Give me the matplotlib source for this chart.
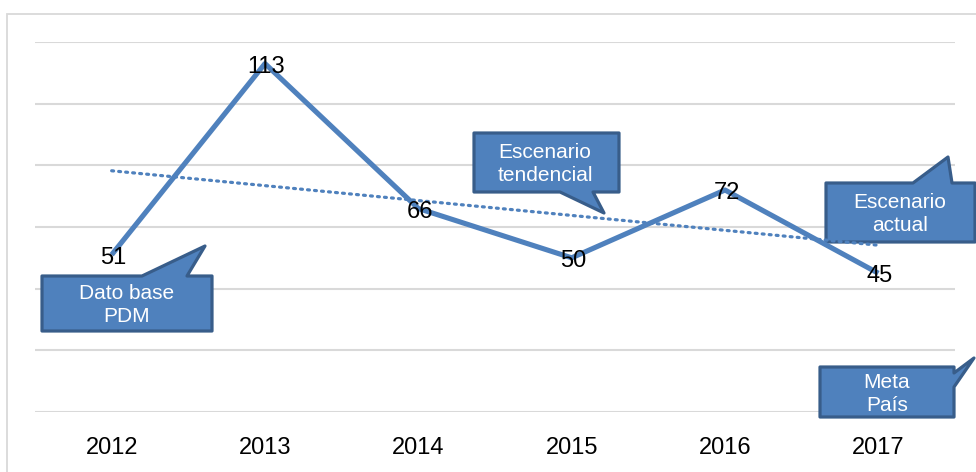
import numpy as np
import matplotlib
matplotlib.use('Agg')
import matplotlib.pyplot as plt
from matplotlib.patches import Polygon, Rectangle

plt.rcParams['font.family'] = ['Liberation Sans', 'DejaVu Sans']

years = ['2012', '2013', '2014', '2015', '2016', '2017']
values = [51, 113, 66, 50, 72, 45]

callout_texts = ['Dato base\nPDM', 'Escenario\ntendencial', 'Escenario\nactual', 'Meta\nPaís']

W, H = 976, 472
blue = '#4F81BD'
dark = '#385D8A'
grid_gray = '#d9d9d9'

fig = plt.figure(figsize=(W / 100, H / 100), dpi=100)
ax = fig.add_axes([35 / W, 1 - 412 / H, 920 / W, 370 / H])

x = np.arange(1, len(years) + 1)

# gridlines
ax.set_ylim(0, 120)
ax.set_xlim(0.5, len(years) + 0.5)
ax.set_yticks(np.arange(0, 121, 20))
ax.yaxis.grid(True, color=grid_gray, lw=1.5, zorder=0)
ax.set_axisbelow(True)
ax.tick_params(axis='y', left=False, labelleft=False)
ax.tick_params(axis='x', length=0, pad=18, labelsize=17)
ax.set_xticks(x)
ax.set_xticklabels(years)
for s in ax.spines.values():
    s.set_visible(False)

# main series
ax.plot(x, values, color=blue, lw=3.7, solid_capstyle='butt', zorder=3)

# linear trendline (like excel)
coef = np.polyfit(x, values, 1)
ax.plot(x, np.polyval(coef, x), color=blue, lw=2.3, ls=(0, (0.6, 1.6)),
        dash_capstyle='round', zorder=3)

# data labels
for xi, v in zip(x, values):
    ax.text(xi + 0.01, v - 1, str(v), ha='center', va='center', fontsize=17,
            color='black', zorder=5)


def px(pts):
    return [(a / W, 1 - b / H) for a, b in pts]


# callout shapes in pixel coords
shapes = [
    [(42, 276), (142, 276), (205, 246), (187, 276), (212, 276), (212, 331), (42, 331)],
    [(474, 133), (619, 133), (619, 192), (593, 192), (604, 213), (560, 192), (474, 192)],
    [(826, 183), (913, 183), (948, 157), (952, 183), (975, 183), (975, 242), (826, 242)],
    [(820, 367), (954, 367), (954, 373), (974, 358), (954, 387), (954, 417), (820, 417)],
]
text_pos = [(127, 305), (545, 164), (900, 214), (887, 394)]

for shp, txt, (tx, ty) in zip(shapes, callout_texts, text_pos):
    poly = Polygon(px(shp), closed=True, facecolor=blue, edgecolor=dark,
                   lw=2.3, joinstyle='round', transform=fig.transFigure,
                   clip_on=False, zorder=2)
    ax.add_patch(poly)
    ax.text(tx / W, 1 - ty / H, txt, transform=fig.transFigure, ha='center',
            va='center', color='white', fontsize=15, linespacing=1.3,
            zorder=6, clip_on=False)

# outer chart border
fig.patches.append(Rectangle((7 / W, 1 - 600 / H), 1.2, 586 / H,
                             transform=fig.transFigure, fill=False,
                             edgecolor=grid_gray, lw=1.3))

fig.savefig('out.png', dpi=100)
